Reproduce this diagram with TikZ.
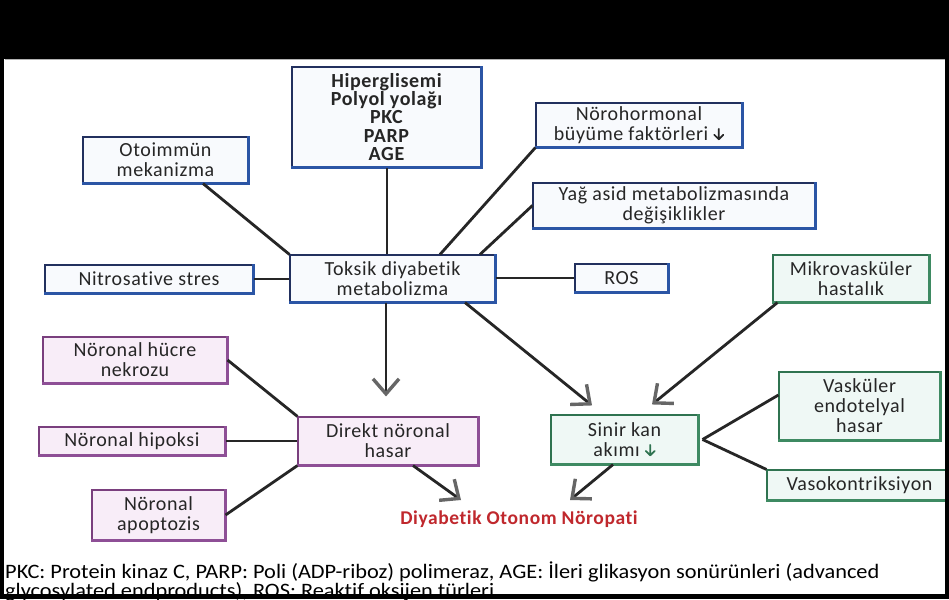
\documentclass[tikz,border=0pt]{standalone}
\usepackage{fontspec}
\setmainfont{Carlito}
\newfontfamily\boxfont{Carlito}[LetterSpace=3,Ligatures={NoCommon,NoContextual}]
\newfontfamily\legfont{Carlito}[FakeStretch=1.09,Ligatures={NoCommon,NoContextual}]
\usetikzlibrary{arrows.meta}
\definecolor{navy}{HTML}{22305E}
\definecolor{navyedge}{HTML}{2B55A5}
\definecolor{topfill}{HTML}{F8FAFD}
\definecolor{purp}{HTML}{7A3F7E}
\definecolor{purpedge}{HTML}{8E4F96}
\definecolor{purpfill}{HTML}{F8EDF8}
\definecolor{grn}{HTML}{2F7350}
\definecolor{grnedge}{HTML}{3E8A62}
\definecolor{grnfill}{HTML}{EFF8F5}
\definecolor{dred}{HTML}{C0282D}
\definecolor{txt}{HTML}{262626}
\newcommand\mybox[7]{\node[#1, minimum width={(#5-#3)*1pt}, minimum height={(#6-#4)*1pt}] (#2) at ({(#3+#5)/2},{(#4+#6)/2}) {#7};}
\newcommand\myedge[2]{\draw[#2, line width=2.2pt] (#1.north east) -- (#1.south east) -- (#1.south west);}
\newcommand\dnarrow[1]{\tikz[baseline=0pt,x=1pt,y=1pt]\draw[line width=1.7pt, line cap=round, line join=round, draw=#1] (0,11.5)--(0,1) (-4.5,5.5)--(0,1)--(4.5,5.5);}
\begin{document}
\begin{tikzpicture}[x=1pt,y=-1pt,
  box/.style={draw, line width=1.1pt, inner sep=0pt, align=center, font=\boxfont\fontsize{20}{20}\selectfont, text=txt},
  topbox/.style={box, draw=navy, fill=topfill},
  pbox/.style={box, draw=purp, fill=purpfill},
  gbox/.style={box, draw=grn, fill=grnfill},
  conn/.style={line width=2.8pt, draw=black!85},
  arr/.style={conn, -{Straight Barb[length=15pt,width=26pt,line width=3.4pt,color=black!60]}},
]
\useasboundingbox (0,0) rectangle (949,599);
\fill[white] (0,0) rectangle (949,599);

% boxes
\mybox{topbox, font=\boxfont\bfseries\fontsize{20}{18.3}\selectfont}{hip}{292}{67}{481}{167}{Hiperglisemi\\Polyol yolağı\\PKC\\PARP\\AGE}
\mybox{topbox}{noro}{536}{103}{742}{147}{Nörohormonal\\büyüme faktörleri \dnarrow{txt}}
\mybox{topbox}{yag}{533}{183}{815}{228}{Yağ asid metabolizmasında\\değişiklikler}
\mybox{topbox}{oto}{83}{137}{248}{183}{Otoimmün\\mekanizma}
\mybox{topbox}{nit}{45}{265}{253}{293}{Nitrosative stres}
\mybox{topbox}{tok}{290}{255}{495}{302}{Toksik diyabetik\\metabolizma}
\mybox{topbox}{ros}{575}{264}{668}{292}{ROS}
\mybox{pbox}{nek}{43}{337}{227}{383}{Nöronal hücre\\nekrozu}
\mybox{pbox}{hipo}{39}{427}{225}{455}{Nöronal hipoksi}
\mybox{pbox}{apo}{92}{490}{225}{540}{Nöronal\\apoptozis}
\mybox{pbox}{dir}{298}{417}{478}{465}{Direkt nöronal\\hasar}
\mybox{gbox}{mik}{773}{255}{929}{302}{Mikrovasküler\\hastalık}
\mybox{gbox}{vas}{779}{372}{940}{440}{Vasküler\\endotelyal\\hasar}
\mybox{gbox}{vaso}{767}{470}{952}{500}{Vasokontriksiyon}
\mybox{gbox}{sin}{551}{415}{698}{464}{Sinir kan\\akımı \dnarrow{grn}}

\foreach \n in {hip,noro,yag,oto,nit,tok,ros} {\myedge{\n}{navyedge}}
\foreach \n in {nek,hipo,apo,dir} {\myedge{\n}{purpedge}}
\foreach \n in {mik,vas,vaso,sin} {\myedge{\n}{grnedge}}

\node[font=\boxfont\bfseries\fontsize{19.5}{19.5}\selectfont, text=dred] (dano) at (519,519) {Diyabetik Otonom Nöropati};
\coordinate (t1) at (461,500);
\coordinate (t2) at (570,500);

% connectors
\draw[conn] (tok.north -| 387,0) -- (hip.south -| 387,0);
\draw[conn] ([xshift=47.5pt]tok.north) -- (noro.south west);
\draw[conn] ([xshift=87.5pt]tok.north) -- (yag.west);
\draw[conn] (tok.north west) -- ([xshift=37.5pt]oto.south);
\draw[conn] (nit.east) -- (tok.west |- nit.east);
\draw[conn] (tok.east |- ros.west) -- (ros.west);
\draw[arr] ([xshift=-6.5pt]tok.south) -- ([xshift=-2pt,yshift=20pt]dir.north);
\draw[arr] ([xshift=72.5pt]tok.south) -- ([xshift=-32.5pt,yshift=9pt]sin.north);
\draw[arr] ([xshift=5pt]mik.south west) -- ([xshift=27.5pt,yshift=10pt]sin.north);
\draw[conn] ([xshift=4pt]sin.east) -- ([yshift=11pt]vas.west);
\draw[conn] ([xshift=4pt]sin.east) -- (vaso.north west);
\draw[arr] ([xshift=-11.5pt]sin.south) -- (t2);
\draw[conn] (nek.east) -- (dir.north west);
\draw[conn] (hipo.east) -- (dir.west |- hipo.east);
\draw[conn] (apo.east) -- (dir.south west);
\draw[arr] ([xshift=25pt]dir.south) -- (t1);

% legend
\node[anchor=base west, inner sep=0pt, font=\legfont\fontsize{20.5}{20.5}\selectfont, text=black] (leg1) at (5,578) {PKC: Protein kinaz C, PARP: Poli (ADP-riboz) polimeraz, AGE: İleri glikasyon sonürünleri (advanced};
\node[anchor=base west, inner sep=0pt, font=\legfont\fontsize{20.5}{20.5}\selectfont, text=black] (leg2) at (5,597) {glycosylated endproducts), ROS: Reaktif oksijen türleri};

% frame
\fill[black] (0,0) rectangle (949,59);
\draw[gray!60, line width=1pt] (5,59.5) -- (945,59.5);
\fill[black] (0,0) rectangle (4,599);
\fill[black] (945,0) rectangle (949,599);
\fill[black] (0,594) rectangle (949,599);
\end{tikzpicture}
\end{document}
